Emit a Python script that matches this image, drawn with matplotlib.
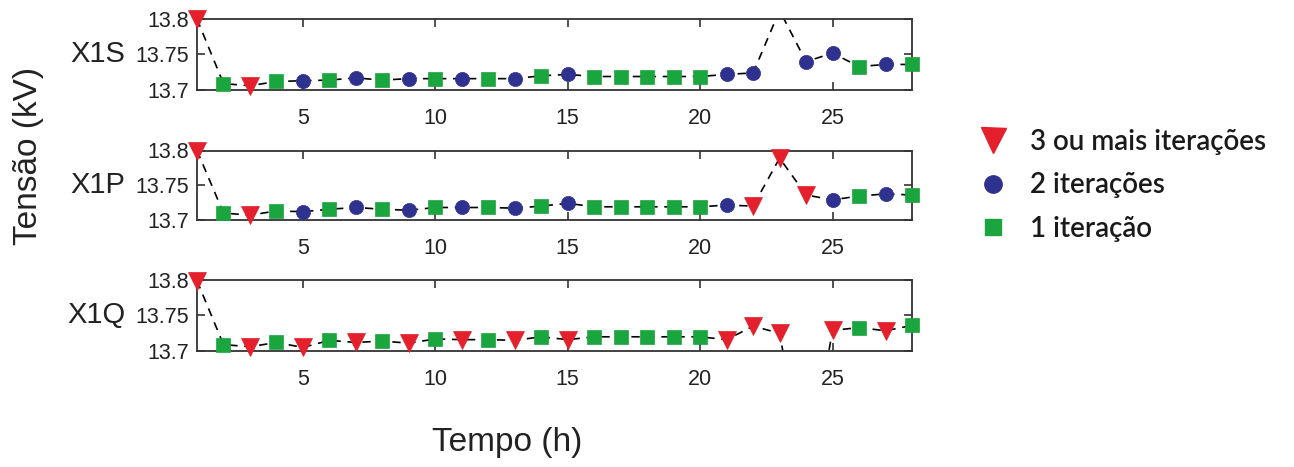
import numpy as np
import matplotlib
matplotlib.use("Agg")
import matplotlib.pyplot as plt
from matplotlib.lines import Line2D

# ---------------- data ----------------
hours = list(range(1, 29))

panel_names = ["X1S", "X1P", "X1Q"]

x1s_kv = [13.800, 13.709, 13.706, 13.712, 13.713, 13.714, 13.717, 13.714, 13.716, 13.716,
          13.716, 13.716, 13.716, 13.720, 13.722, 13.719, 13.719, 13.719, 13.719, 13.719,
          13.722, 13.724, 13.812, 13.740, 13.752, 13.733, 13.736, 13.736]
x1s_iter = [3, 1, 3, 1, 2, 1, 2, 1, 2, 1, 2, 1, 2, 1, 2, 1, 1, 1, 1, 1, 2, 2, 3, 2, 2, 1, 2, 1]

x1p_kv = [13.800, 13.710, 13.707, 13.713, 13.712, 13.7155, 13.718, 13.7155, 13.714, 13.718,
          13.718, 13.718, 13.717, 13.720, 13.724, 13.719, 13.719, 13.719, 13.719, 13.719,
          13.7215, 13.720, 13.789, 13.736, 13.729, 13.7345, 13.7375, 13.736]
x1p_iter = [3, 1, 3, 1, 2, 1, 2, 1, 2, 1, 2, 1, 2, 1, 2, 1, 1, 1, 1, 1, 2, 3, 3, 3, 2, 1, 2, 1]

x1q_kv = [13.799, 13.709, 13.706, 13.712, 13.705, 13.715, 13.712, 13.714, 13.711, 13.717,
          13.716, 13.716, 13.715, 13.720, 13.716, 13.720, 13.720, 13.720, 13.720, 13.720,
          13.716, 13.735, 13.725, 13.520, 13.729, 13.733, 13.7285, 13.736]
x1q_iter = [3, 1, 3, 1, 3, 1, 3, 1, 3, 1, 3, 1, 3, 1, 3, 1, 1, 1, 1, 1, 3, 3, 3, 3, 3, 1, 3, 1]

panel_values = [x1s_kv, x1p_kv, x1q_kv]
panel_iters = [x1s_iter, x1p_iter, x1q_iter]

y_ticks = [13.7, 13.75, 13.8]
y_tick_labels = ["13.7", "13.75", "13.8"]
x_ticks = [5, 10, 15, 20, 25]

legend_labels = {3: "3 ou mais iterações", 2: "2 iterações", 1: "1 iteração"}

# ---------------- style ----------------
styles = {
    3: dict(marker="v", color="#e3202b", ms=12.5),
    2: dict(marker="o", color="#2f318f", ms=10.2),
    1: dict(marker="s", color="#1ba53f", ms=9.6),
}

W, H = 1294, 467
fig = plt.figure(figsize=(W / 100, H / 100), dpi=100)

tick_font = dict(family="Liberation Sans", size=15.5)

# axes boxes in pixels: (top, bottom)
boxes = [(19, 90), (150.5, 220), (280, 351)]
left_px, right_px = 197, 912

for (top, bot), name, vals, iters in zip(boxes, panel_names, panel_values, panel_iters):
    ax = fig.add_axes([left_px / W, 1 - bot / H, (right_px - left_px) / W, (bot - top) / H])
    x = np.array(hours)
    v = np.array(vals)
    it = np.array(iters)
    ax.plot(x, v, color="black", lw=1.2, linestyle=(0, (5, 4)), zorder=2)
    ylo, yhi = 13.7, 13.8
    inside = (v >= ylo - 1e-3) & (v <= yhi + 1e-3)
    for k, st in styles.items():
        m = inside & (it == k)
        ax.plot(x[m], v[m], linestyle="none", marker=st["marker"], ms=st["ms"],
                mfc=st["color"], mec=st["color"], mew=0.5, clip_on=False, zorder=3)
    ax.set_xlim(1, 28)
    ax.set_ylim(ylo, yhi)
    ax.set_xticks(x_ticks)
    ax.set_xticklabels([str(t) for t in x_ticks], **tick_font)
    ax.set_yticks(y_ticks)
    ax.set_yticklabels(y_tick_labels, **tick_font)
    ax.tick_params(axis="both", direction="in", length=6, width=1.2, color="#333333",
                   top=True, right=True, labelcolor="#222222")
    ax.tick_params(axis="x", pad=13)
    ax.tick_params(axis="y", pad=6)
    for s in ax.spines.values():
        s.set_color("#333333")
        s.set_linewidth(1.3)
    ax.text(-0.1, 0.5, name, transform=ax.transAxes, ha="right", va="center",
            family="Liberation Sans", size=21, color="#222222")

fig.text(29 / W, 1 - 156 / H, "Tensão (kV)", rotation=90, ha="center", va="center",
         family="Liberation Sans", size=24, color="#222222")
fig.text(507 / W, 1 - 443 / H, "Tempo (h)", ha="center", va="center",
         family="Liberation Sans", size=24, color="#222222")

handles = []
labels = []
for k in (3, 2, 1):
    st = styles[k]
    size = {3: 18, 2: 12.5, 1: 11}[k]
    handles.append(Line2D([], [], linestyle="none", marker=st["marker"], ms=size,
                          mfc=st["color"], mec=st["color"]))
    labels.append(legend_labels[k])

fig.legend(handles, labels, loc="upper left", bbox_to_anchor=(979 / W, 1 - 129 / H),
           frameon=False, borderpad=0, borderaxespad=0, handlelength=1.0,
           handletextpad=0.83, labelspacing=0.63, numpoints=1,
           prop=dict(family="Lato", size=20, weight="semibold"), labelcolor="#1a1a1a")

fig.savefig("out.png", dpi=100)
